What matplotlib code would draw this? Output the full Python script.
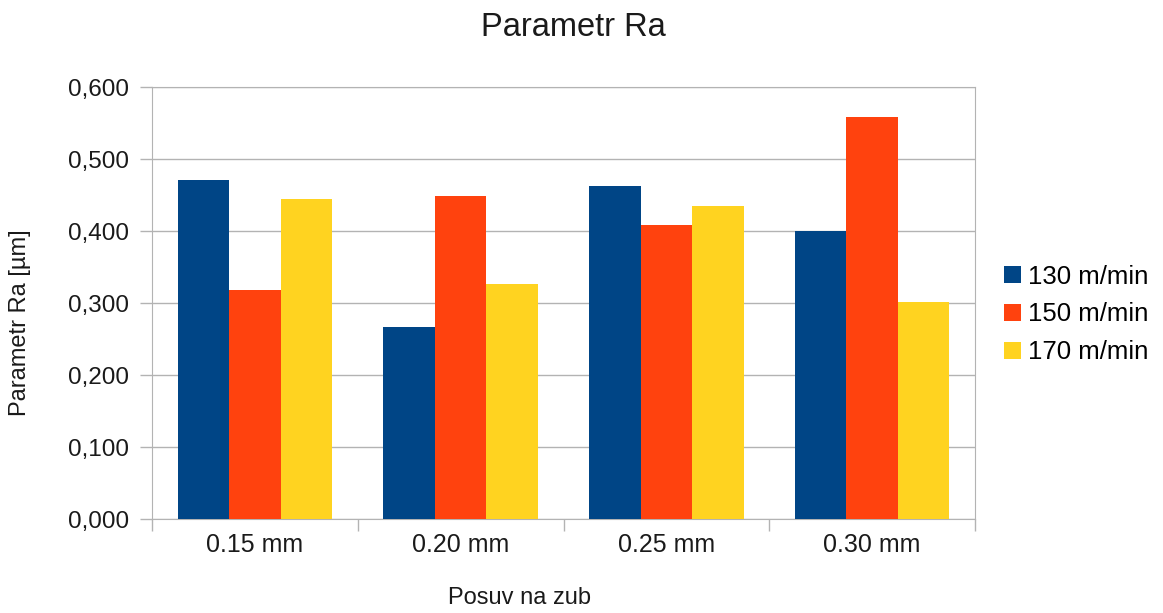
import matplotlib.pyplot as plt
import numpy as np

plt.rcParams['font.family'] = ['Liberation Sans', 'DejaVu Sans']

feeds = ['0.15 mm', '0.20 mm', '0.25 mm', '0.30 mm']
speeds = ['130 m/min', '150 m/min', '170 m/min']
ra_130 = [0.472, 0.267, 0.463, 0.400]
ra_150 = [0.318, 0.449, 0.409, 0.559]
ra_170 = [0.445, 0.327, 0.435, 0.302]
colors = ['#004586', '#ff420e', '#ffd320']

fig = plt.figure(figsize=(11.63, 6.13), dpi=100)
ax = fig.add_axes([0.1307, 0.1533, 0.8384 - 0.1307, 0.8573 - 0.1533])

x = np.arange(len(feeds))
w = 0.25
for i, (vals, lab) in enumerate(zip([ra_130, ra_150, ra_170], speeds)):
    ax.bar(x + (i - 1) * w, vals, w, color=colors[i], label=lab, zorder=3)

ax.set_xlim(-0.5, len(feeds) - 0.5)
ax.set_ylim(0, 0.6)
yt = np.arange(0, 0.61, 0.1)
ax.set_yticks(yt)
ax.set_yticklabels([f'{v:.3f}'.replace('.', ',') for v in yt])
ax.yaxis.grid(True, color='#b3b3b3', linewidth=1, zorder=0)
ax.set_xticks(x)
ax.set_xticklabels(feeds)
ax.set_xticks(np.arange(-0.5, len(feeds)), minor=True)
ax.tick_params(axis='x', which='major', length=0, pad=10, labelsize=18, labelcolor='#1a1a1a')
ax.tick_params(axis='x', which='minor', length=8.6, color='#b3b3b3', width=1)
ax.tick_params(axis='y', length=8.6, color='#b3b3b3', width=1, pad=8, labelsize=17.5,
               labelcolor='#1a1a1a')
for s in ax.spines.values():
    s.set_color('#b3b3b3')

fig.text(0.493, 0.955, 'Parametr Ra', ha='center', va='center', fontsize=23.5, color='#1a1a1a')
fig.text(0.447, 0.025, 'Posuv na zub', ha='center', va='center', fontsize=17, color='#1a1a1a')
fig.text(0.017, 0.473, 'Parametr Ra [µm]', ha='center', va='center', rotation=90,
         fontsize=17, color='#1a1a1a')

ax.legend(loc='center left', bbox_to_anchor=(0.863, 0.487), bbox_transform=fig.transFigure,
          frameon=False, fontsize=18.5, handlelength=0.66, handleheight=0.66,
          handletextpad=0.3, labelspacing=0.54, borderpad=0, borderaxespad=0)

fig.savefig('out.png', dpi=100)
